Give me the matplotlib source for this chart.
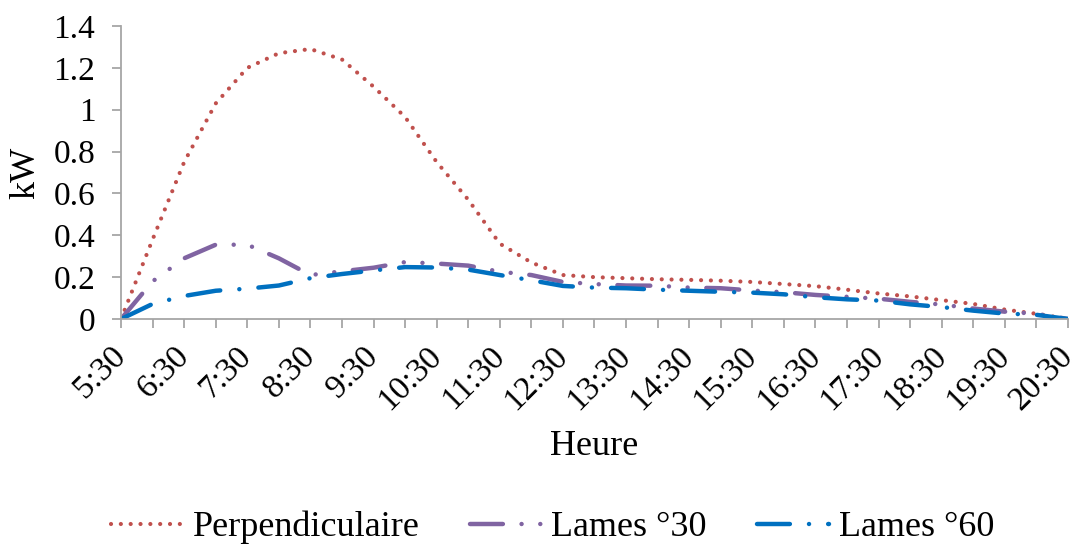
import numpy as np
import matplotlib.pyplot as plt

plt.rcParams['font.family'] = ['Liberation Serif', 'DejaVu Serif']

# half-hour steps from 5:30 to 20:30
times = ["%d:%s" % (5 + (i + 1) // 2, "30" if i % 2 == 0 else "00") for i in range(31)]

perpendiculaire = [0.0, 0.38, 0.75, 1.03, 1.2, 1.27, 1.29, 1.24, 1.11, 0.965,
                   0.75, 0.57, 0.36, 0.27, 0.21, 0.2, 0.195, 0.19, 0.187, 0.183,
                   0.177, 0.167, 0.157, 0.14, 0.122, 0.108, 0.09, 0.072, 0.045,
                   0.025, 0.0]
lames_30 = [0.0, 0.18, 0.29, 0.355, 0.355, 0.29, 0.21, 0.228, 0.245, 0.272,
            0.265, 0.255, 0.226, 0.21, 0.177, 0.167, 0.16, 0.159, 0.15, 0.147,
            0.136, 0.128, 0.115, 0.106, 0.097, 0.082, 0.069, 0.05, 0.035,
            0.025, 0.0]
lames_60 = [0.0, 0.072, 0.11, 0.135, 0.145, 0.16, 0.195, 0.215, 0.232, 0.248,
            0.246, 0.236, 0.21, 0.185, 0.158, 0.15, 0.147, 0.14, 0.135, 0.13,
            0.126, 0.118, 0.104, 0.094, 0.088, 0.07, 0.057, 0.04, 0.026,
            0.02, 0.0]

x = np.arange(len(times))

fig = plt.figure(figsize=(10.73, 5.44), dpi=100)
ax = fig.add_axes([0.1128, 0.4136, 0.8825, 0.5386])

ax.plot(x, perpendiculaire, color="#C0504D", lw=3.0, linestyle=(0, (0.01, 2.35)),
        dash_capstyle="round", label="Perpendiculaire")
ax.plot(x, lames_30, color="#8064A2", lw=3.2,
        linestyle=(0, (7.4, 4.2, 0.01, 4.2, 0.01, 4.2)),
        dash_capstyle="round", label="Lames °30")
ax.plot(x, lames_60, color="#0070C0", lw=3.2,
        linestyle=(0, (7.4, 4.3, 0.01, 4.3)),
        dash_capstyle="round", label="Lames °60")

ax.set_xlim(0, 30)
ax.set_ylim(0, 1.4)
ax.set_yticks(np.arange(0, 1.41, 0.2))
ax.set_yticklabels(["%g" % round(v, 1) for v in np.arange(0, 1.41, 0.2)])
ax.set_xticks(x, minor=True)
ax.set_xticks(x[::2])
ax.set_xticklabels(times[::2], rotation=45, ha="right", va="center",
                   rotation_mode="anchor")

for s in ["top", "right"]:
    ax.spines[s].set_visible(False)
for s in ["left", "bottom"]:
    ax.spines[s].set_color("#A6A6A6")
    ax.spines[s].set_linewidth(1.3)
ax.tick_params(which="both", color="#A6A6A6", width=1.3, length=6.5, labelsize=24)
ax.tick_params(axis="x", which="major", pad=17)
ax.tick_params(axis="y", pad=12)
ax.tick_params(axis="x", which="minor", labelbottom=False)

ax.set_xlabel("Heure", fontsize=26)
ax.xaxis.set_label_coords(0.5, -0.38)
ax.set_ylabel("kW", fontsize=26, labelpad=8)

fig.legend(loc="lower center", bbox_to_anchor=(0.515, -0.06), ncol=3,
           frameon=False, fontsize=26, handlelength=2.0, handletextpad=0.25,
           columnspacing=1.4)

fig.savefig("out.png", dpi=100)
